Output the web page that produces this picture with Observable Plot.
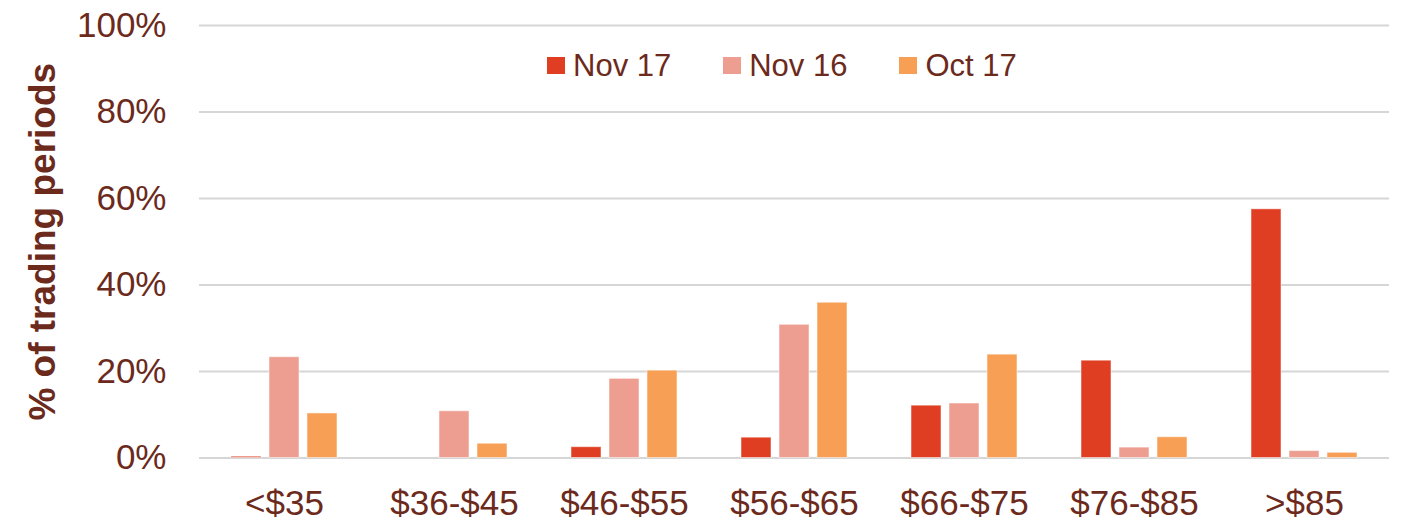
<!DOCTYPE html>
<html><head><meta charset="utf-8">
<script src="https://cdn.jsdelivr.net/npm/d3@7"></script>
<script src="https://cdn.jsdelivr.net/npm/@observablehq/plot@0.6"></script>
<style>
body{margin:0;background:#fff;font-family:"Liberation Sans",Arial,sans-serif;}
#wrap{position:relative;width:1402px;height:521px;}
#legend{position:absolute;top:50px;left:547px;display:flex;align-items:center;color:#6b2a1c;font-size:31px;line-height:31px;}
#legend .item{display:flex;align-items:center;margin-right:52px;}
#legend .sw{width:18px;height:17px;margin-right:8px;}
[aria-label="y-axis label"] text{font-weight:bold;font-size:37px;}
</style></head><body><div id="wrap"><div id="legend"></div></div>
<script>
const categories = ["<$35","$36-$45","$46-$55","$56-$65","$66-$75","$76-$85",">$85"];
const series = ["Nov 17","Nov 16","Oct 17"];
const nov17 = [0.3,0,2.5,4.7,12.1,22.5,57.5];
const nov16 = [23.3,10.8,18.3,30.8,12.6,2.4,1.6];
const oct17 = [10.3,3.3,20.2,35.9,23.9,4.8,1.2];
const colors = ["#df3e23","#ee9e91","#f7a055"];
const yTicks = [0,20,40,60,80,100];
const yLabel = "% of trading periods";

const seriesValues = [nov17, nov16, oct17];
const data = [];
categories.forEach((c,i)=>series.forEach((s,j)=>data.push({category:c, series:s, value:seriesValues[j][i]})));

const chart = Plot.plot({
  width:1402, height:521,
  marginLeft:198, marginRight:12, marginTop:25, marginBottom:63.5,
  style:{fontFamily:"Liberation Sans, Arial, sans-serif", fontSize:"35px", color:"#6b2a1c", background:"#fff", overflow:"visible"},
  fx:{domain:categories, padding:0, label:null},
  x:{domain:series, paddingInner:0.22, paddingOuter:0.82, axis:null},
  y:{domain:[0,100]},
  color:{domain:series, range:colors},
  marks:[
    Plot.gridY(yTicks, {stroke:"#d6d6d6", strokeOpacity:1, strokeWidth:2}),
    Plot.barY(data, {fx:"category", x:"series", y:"value", fill:"series", stroke:"#ffffff", strokeOpacity:0.5, strokeWidth:1}),
    Plot.axisY(yTicks, {tickSize:0, tickPadding:33, tickFormat:d=>d+"%", label:yLabel, labelAnchor:"center", labelArrow:"none", labelOffset:171, fill:"#6b2a1c"}),
    Plot.axisFx({anchor:"bottom", tickSize:0, tickPadding:32, label:null, fill:"#6b2a1c"})
  ]
});
document.getElementById("wrap").prepend(chart);

const legend = document.getElementById("legend");
series.forEach((s,j)=>{
  const it = document.createElement("div"); it.className="item";
  const sw = document.createElement("div"); sw.className="sw"; sw.style.background=colors[j];
  const t = document.createElement("span"); t.textContent=s;
  it.appendChild(sw); it.appendChild(t); legend.appendChild(it);
});
</script></body></html>
